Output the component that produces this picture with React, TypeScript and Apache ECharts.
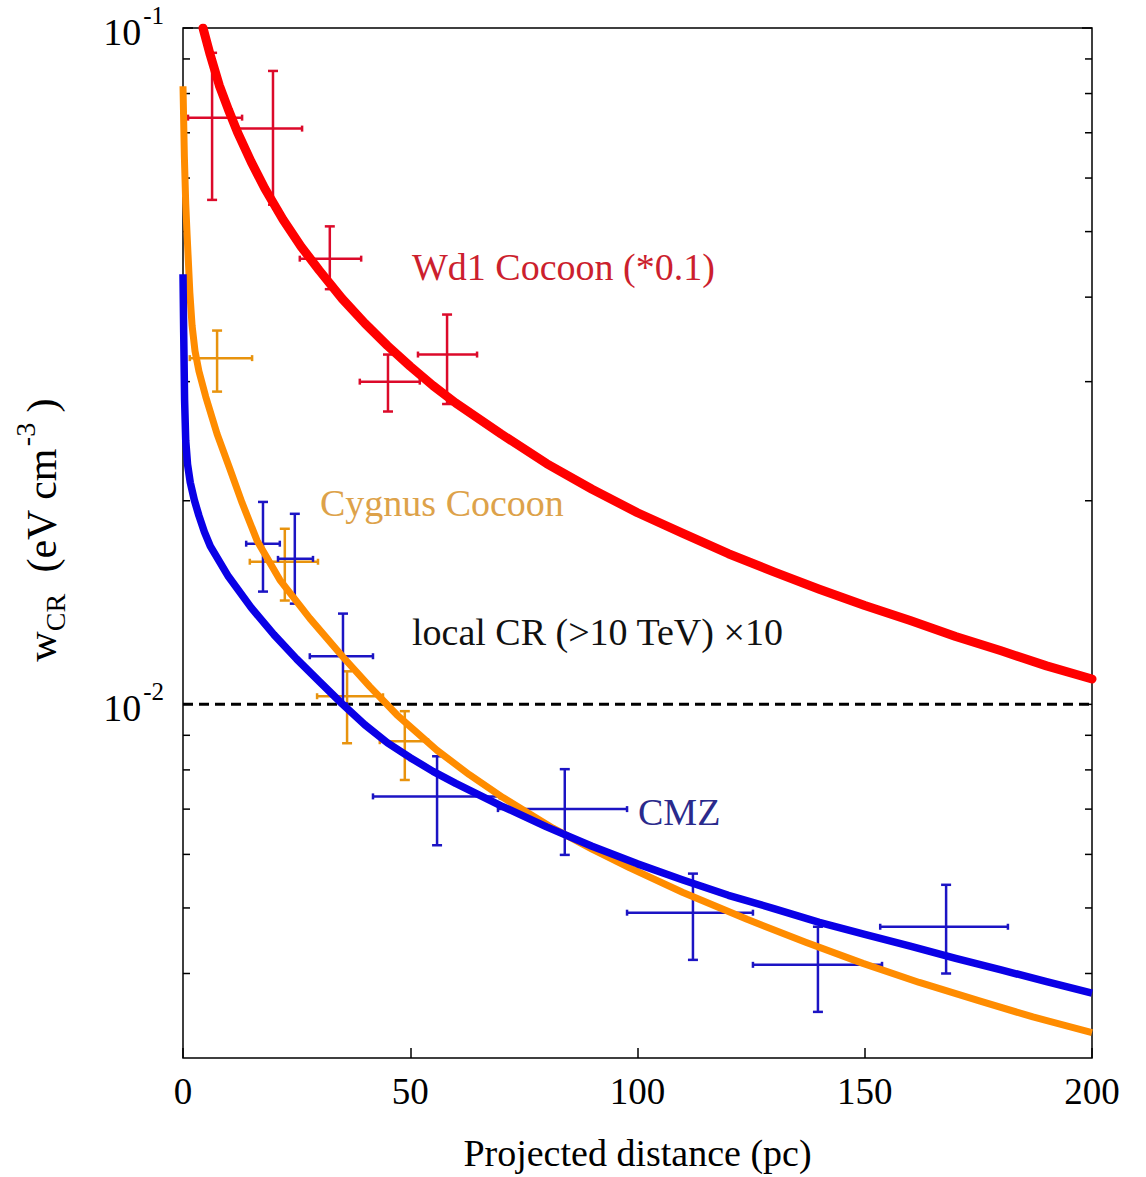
import React, { useEffect, useRef } from "react";
import * as echarts from "echarts";

// ---- Data ----
// Model curves: [projected distance (pc), w_CR]
const wd1Curve: number[][] = [
  [4.4, 0.1], [6, 0.0912], [8, 0.0822], [10, 0.0757], [12, 0.0701], [15, 0.0634],
  [18, 0.0579], [22, 0.0521], [26, 0.0475], [30, 0.0438], [35, 0.0398], [40, 0.0366],
  [45, 0.0339], [50, 0.0316], [55, 0.0296], [60, 0.0279], [70, 0.0251], [80, 0.0227],
  [90, 0.0208], [100, 0.0192], [110, 0.0179], [120, 0.0167], [130, 0.0157],
  [140, 0.0148], [150, 0.0140], [160, 0.0133], [170, 0.0126], [180, 0.0120],
  [190, 0.0114], [200, 0.0109],
];
const cygnusCurve: number[][] = [
  [0, 0.082], [0.3, 0.0646], [0.6, 0.055], [0.9, 0.0495], [1.5, 0.0407], [2, 0.0363],
  [2.64, 0.0333], [3.5, 0.0311], [5, 0.0285], [7.5, 0.0251], [10.3, 0.0223],
  [13, 0.01986], [16.3, 0.01746], [21.3, 0.01528], [27.9, 0.0134], [35.2, 0.01175],
  [41.1, 0.01062], [47, 0.00966], [55.9, 0.00855], [63, 0.00787], [70.4, 0.00728],
  [81.4, 0.00656], [90, 0.00611], [98.3, 0.00573], [110, 0.00527], [124.1, 0.00481],
  [137, 0.00445], [149.6, 0.00414], [162, 0.00388], [175.4, 0.00364], [187, 0.00345],
  [200, 0.00327],
];
const cmzCurve: number[][] = [
  [0, 0.04325], [0.15, 0.03548], [0.35, 0.02818], [0.6, 0.02455], [1, 0.02265],
  [1.6, 0.02128], [2.5, 0.02004], [3.5, 0.01901], [4.7, 0.01799], [6, 0.01714],
  [10, 0.01545], [15, 0.0139], [20, 0.01268], [25, 0.01167], [30, 0.01081],
  [35, 0.01002], [40, 0.00933], [45, 0.00877], [50, 0.00834], [55, 0.00796],
  [60, 0.00764], [70, 0.00708], [80, 0.00659], [90, 0.00617], [100, 0.00581],
  [110, 0.0055], [120, 0.00522], [130, 0.00499], [140, 0.00476], [150, 0.00457],
  [160, 0.00439], [170, 0.00421], [180, 0.00405], [190, 0.00389], [200, 0.00374],
];

// Data points with error bars: [x, xLow, xHigh, y, yLow, yHigh]
const wd1Points: number[][] = [
  [6.4, 1.1, 13.0, 0.0737, 0.0557, 0.0919],
  [19.8, 12.1, 26.2, 0.0710, 0.0548, 0.0864],
  [32.3, 25.7, 39.2, 0.0456, 0.0411, 0.0509],
  [45.1, 38.9, 52.1, 0.0300, 0.0271, 0.0329],
  [58.1, 51.7, 64.7, 0.0329, 0.0278, 0.0377],
];
const cygnusPoints: number[][] = [
  [7.5, 1.5, 15.2, 0.0325, 0.0290, 0.0357],
  [22.4, 14.7, 29.7, 0.01625, 0.01424, 0.01818],
  [36.1, 29.5, 44.0, 0.01028, 0.00876, 0.01119],
  [48.8, 43.3, 53.9, 0.00882, 0.00773, 0.00977],
];
const cmzPoints: number[][] = [
  [17.6, 13.9, 21.3, 0.01728, 0.01468, 0.01992],
  [24.6, 20.9, 28.6, 0.01641, 0.01409, 0.01913],
  [35.2, 27.9, 41.8, 0.01178, 0.01003, 0.01362],
  [55.9, 41.8, 69.7, 0.00731, 0.00619, 0.00838],
  [84.0, 69.3, 97.7, 0.0070, 0.00599, 0.00802],
  [112.2, 97.7, 125.4, 0.00492, 0.00419, 0.00562],
  [139.7, 125.4, 153.8, 0.00412, 0.00351, 0.00469],
  [167.9, 153.4, 181.5, 0.00469, 0.0040, 0.00541],
];

// Local CR level (x10)
const localCR: number[][] = [[0, 0.01], [200, 0.01]];

// Axis ticks
const yTickValues = [
  0.004, 0.005, 0.006, 0.007, 0.008, 0.009, 0.01,
  0.02, 0.03, 0.04, 0.05, 0.06, 0.07, 0.08, 0.09, 0.1,
];
const yMajorLabels: Record<string, string> = { "0.1": "-1", "0.01": "-2" };

const FONT = "'Liberation Serif', 'DejaVu Serif', serif";

function errorBarRenderer(color: string, lw: number) {
  return (params: any, api: any) => {
    const x = api.value(0), xlo = api.value(1), xhi = api.value(2);
    const y = api.value(3), ylo = api.value(4), yhi = api.value(5);
    const c = api.coord([x, y]);
    const l = api.coord([xlo, y]);
    const r = api.coord([xhi, y]);
    const t = api.coord([x, yhi]);
    const b = api.coord([x, ylo]);
    const vc = 5; // half-width of caps on vertical bar
    const hc = 3; // half-height of caps on horizontal bar
    const st = { stroke: color, lineWidth: lw, fill: null };
    const ln = (x1: number, y1: number, x2: number, y2: number) => ({
      type: "line", shape: { x1, y1, x2, y2 }, style: st,
    });
    return {
      type: "group",
      children: [
        ln(l[0], c[1], r[0], c[1]),
        ln(c[0], t[1], c[0], b[1]),
        ln(c[0] - vc, t[1], c[0] + vc, t[1]),
        ln(c[0] - vc, b[1], c[0] + vc, b[1]),
        ln(l[0], c[1] - hc, l[0], c[1] + hc),
        ln(r[0], c[1] - hc, r[0], c[1] + hc),
      ],
    };
  };
}

export default function App() {
  const ref = useRef<HTMLDivElement>(null);
  useEffect(() => {
    if (!ref.current) return;
    const chart = echarts.init(ref.current, undefined, { renderer: "svg" });
    const option: any = {
      animation: false,
      backgroundColor: "#ffffff",
      textStyle: { fontFamily: FONT },
      grid: {
        left: 183, top: 28, right: 54, bottom: 117,
        show: true, borderColor: "#000", borderWidth: 1.5, backgroundColor: "transparent",
      },
      xAxis: {
        type: "value", min: 0, max: 200, interval: 50,
        axisLine: { show: false },
        axisTick: { show: true, inside: true, length: 10, lineStyle: { color: "#000", width: 1.5 } },
        axisLabel: { fontSize: 37, color: "#000", fontFamily: FONT, margin: 15 },
        splitLine: { show: false },
        name: "Projected distance (pc)",
        nameLocation: "middle", nameGap: 76,
        nameTextStyle: { fontSize: 38, color: "#000", fontFamily: FONT },
      },
      yAxis: {
        type: "log", logBase: 10, min: 0.003, max: 0.1,
        axisLine: { show: false }, axisTick: { show: false },
        axisLabel: { show: false }, splitLine: { show: false },
      },
      graphic: [
        {
          type: "text", x: 42, y: 530, rotation: Math.PI / 2,
          style: {
            text: "w{sub|CR}  (eV cm{sup|-3} )",
            fontSize: 42, fontFamily: FONT, fill: "#000",
            align: "center", verticalAlign: "middle",
            rich: {
              sub: { fontSize: 28, fontFamily: FONT, verticalAlign: "bottom", padding: [0, 0, -6, 0] },
              sup: { fontSize: 28, fontFamily: FONT, verticalAlign: "top", padding: [-10, 0, 0, 2] },
            },
          },
        },
        { type: "text", x: 412, y: 267, style: { text: "Wd1 Cocoon (*0.1)", fontSize: 38, fontFamily: FONT, fill: "#cc1f2e", verticalAlign: "middle" } },
        { type: "text", x: 320, y: 503, style: { text: "Cygnus Cocoon", fontSize: 38, fontFamily: FONT, fill: "#dda24a", verticalAlign: "middle" } },
        { type: "text", x: 412, y: 632, style: { text: "local CR (>10 TeV) \u00d710", fontSize: 38, fontFamily: FONT, fill: "#111", verticalAlign: "middle" } },
        { type: "text", x: 638, y: 812, style: { text: "CMZ", fontSize: 38, fontFamily: FONT, fill: "#2a2a8c", verticalAlign: "middle" } },
      ],
      series: [
        {
          type: "custom", name: "yticks", clip: false, silent: true,
          data: yTickValues.map((v) => [0, v]),
          encode: { x: 0, y: 1 },
          renderItem: (params: any, api: any) => {
            const v = api.value(1);
            const pl = api.coord([0, v]);
            const pr = api.coord([200, v]);
            const key = String(v);
            const major = key in yMajorLabels;
            const len = major ? 10 : 7;
            const st = { stroke: "#000", lineWidth: 1.5 };
            const children: any[] = [
              { type: "line", shape: { x1: pl[0], y1: pl[1], x2: pl[0] + len, y2: pl[1] }, style: st },
              { type: "line", shape: { x1: pr[0], y1: pr[1], x2: pr[0] - len, y2: pr[1] }, style: st },
            ];
            if (major) {
              children.push({
                type: "text",
                style: {
                  x: pl[0] - 19, y: pl[1] + 4,
                  text: "{b|10}{s|" + yMajorLabels[key] + "}",
                  align: "right", verticalAlign: "middle",
                  rich: {
                    b: { fontSize: 38, fontFamily: FONT, fill: "#000" },
                    s: { fontSize: 25, fontFamily: FONT, fill: "#000", verticalAlign: "top", padding: [-10, 0, 0, 2] },
                  },
                },
              });
            }
            return { type: "group", children };
          },
          z: 1,
        },
        {
          type: "line", name: "local", data: localCR, showSymbol: false, symbol: "none",
          lineStyle: { color: "#000", width: 3, type: [10, 6] }, z: 2,
        },
        { type: "custom", name: "wd1pts", data: wd1Points, encode: { x: [0, 1, 2], y: [3, 4, 5] }, renderItem: errorBarRenderer("#dc0a2a", 2.5), z: 3 },
        { type: "custom", name: "cygpts", data: cygnusPoints, encode: { x: [0, 1, 2], y: [3, 4, 5] }, renderItem: errorBarRenderer("#e8930e", 2.5), z: 3 },
        { type: "custom", name: "cmzpts", data: cmzPoints, encode: { x: [0, 1, 2], y: [3, 4, 5] }, renderItem: errorBarRenderer("#1c14c4", 2.5), z: 3 },
        {
          type: "line", name: "Wd1", data: wd1Curve, symbol: "none", smooth: false,
          lineStyle: { color: "#ff0000", width: 9, join: "round", cap: "round" }, clip: true, z: 4,
        },
        {
          type: "line", name: "Cygnus", data: cygnusCurve, symbol: "none", smooth: false,
          lineStyle: { color: "#ff8c00", width: 7, join: "round" }, clip: true, z: 5,
        },
        {
          type: "line", name: "CMZ", data: cmzCurve, symbol: "none", smooth: false,
          lineStyle: { color: "#0a00e6", width: 7.5, join: "round" }, clip: true, z: 6,
        },
      ],
    };
    chart.setOption(option);
    return () => chart.dispose();
  }, []);
  return (
    <div
      ref={ref}
      style={{ position: "fixed", left: 0, top: 0, width: 1146, height: 1177, background: "#fff" }}
    />
  );
}
